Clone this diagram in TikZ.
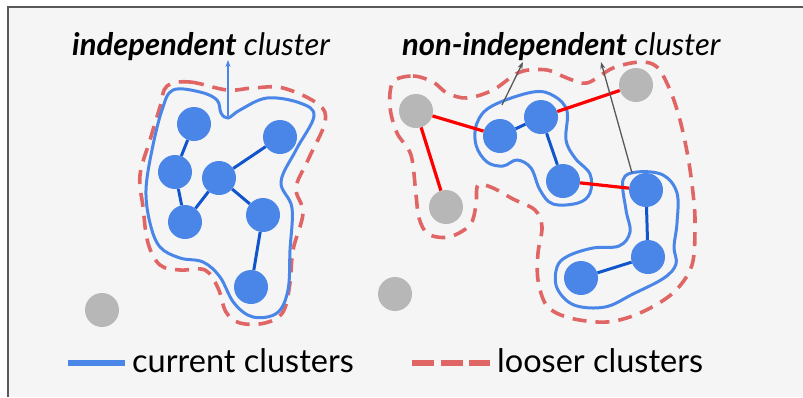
\documentclass[tikz,border=0pt]{standalone}
\usepackage{fontspec}
\setmainfont{Lato}
\usepackage{tikz}
\usetikzlibrary{arrows.meta, positioning}
\definecolor{nodeblue}{RGB}{74, 134, 232}
\definecolor{edgeblue}{RGB}{17, 85, 204}
\definecolor{looseRed}{RGB}{224, 102, 102}
\definecolor{edgered}{RGB}{255, 0, 0}
\definecolor{pointgray}{RGB}{183, 183, 183}
\definecolor{framegray}{RGB}{89, 89, 89}
\definecolor{panelbg}{RGB}{245, 245, 245}

\begin{document}
\begin{tikzpicture}[
			x=1pt, y=-1pt,
			member/.style={circle, fill=nodeblue, minimum size=34pt, inner sep=0pt},
			outlier/.style={circle, fill=pointgray, minimum size=34pt, inner sep=0pt},
			intra/.style={draw=edgeblue, line width=3pt},
			inter/.style={draw=edgered, line width=3.2pt},
			current/.style={draw=nodeblue, line width=3pt},
			looser/.style={draw=looseRed, line width=3.6pt, dash pattern=on 14pt off 9pt},
			caption/.style={anchor=base west, font=\fontsize{31}{34}\selectfont\itshape, inner sep=0pt},
			legend/.style={anchor=base west, font=\fontsize{32.5}{36}\selectfont, inner sep=0pt}
		]
		% Panel
		\useasboundingbox (0,0) rectangle (803,397);
		\fill[panelbg] (8,7) rectangle (803,397);
		\draw[framegray, line width=2.5pt] (8,397) -- (8,7) -- (803,7);

		% Left group
		\draw[looser] plot[smooth cycle, tension=0.6] coordinates {
			(167,86) (190,82) (227,90) (253,88) (283,88) (318,104) (325,122)
			(308,160) (296,188) (303,213) (293,250) (290,283) (283,312)
			(265,323) (240,323) (226,312) (218,288) (205,270) (180,270)
			(160,265) (148,243) (143,207) (140,175) (150,140) (160,107)};
		\draw[current] plot[smooth cycle, tension=0.6] coordinates {
			(173,90) (200,92) (217,100) (221,113) (228,118) (240,110) (267,98)
			(300,103) (314,116) (296,150) (281,182) (292,208) (290,250)
			(288,290) (277,313) (253,317) (234,303) (220,277) (203,262)
			(180,258) (160,247) (150,223) (146,190) (152,150) (162,110)};

		\node[member] (a) at (194,124) {};
		\node[member] (b) at (280,137) {};
		\node[member] (c) at (175,172) {};
		\node[member] (d) at (219,178) {};
		\node[member] (e) at (185,222) {};
		\node[member] (f) at (263,215) {};
		\node[member] (g) at (251,287) {};
		\node[outlier] (o1) at (102,310) {};

		% Right group
		\draw[looser] plot[smooth cycle, tension=0.55] coordinates {
			(393,82) (413,76) (433,82) (447,93) (467,98) (493,90) (520,72)
			(547,70) (567,78) (587,83) (613,68) (640,62) (657,67) (670,90)
			(680,120) (688,157) (693,193) (695,223) (692,265) (673,293)
			(640,313) (607,322) (570,318) (547,306) (538,280) (538,253)
			(542,227) (535,210) (513,199) (493,188) (478,185) (476,205)
			(470,225) (449,237) (428,234) (419,218) (416,195) (411,155)
			(397,133) (390,107)};
		\draw[current] plot[smooth cycle, tension=0.6] coordinates {
			(477,123) (492,106) (533,92) (554,96) (567,111) (566,140)
			(575,158) (590,174) (590,193) (578,203) (553,204) (540,190)
			(531,168) (517,160) (503,166) (487,162) (476,145)};
		\draw[current] plot[smooth cycle, tension=0.6] coordinates {
			(623,180) (637,172) (663,175) (677,193) (677,223) (674,247)
			(676,264) (664,278) (633,294) (605,307) (574,305) (557,288)
			(557,267) (568,256) (593,248) (619,246) (630,232) (626,210)};

		\node[outlier] (p) at (416,111) {};
		\node[outlier] (q) at (636,85) {};
		\node[outlier] (r) at (446,207) {};
		\node[outlier] (o2) at (395,294) {};
		\node[member] (h) at (500,136) {};
		\node[member] (i) at (541,117) {};
		\node[member] (j) at (563,181) {};
		\node[member] (k) at (646,190) {};
		\node[member] (l) at (648,257) {};
		\node[member] (m) at (581,278) {};

		% Links
		\draw[intra] (a) -- (c);
		\draw[intra] (c) -- (e);
		\draw[intra] (e) -- (d);
		\draw[intra] (d) -- (b);
		\draw[intra] (d) -- (f);
		\draw[intra] (f) -- (g);
		\draw[intra] (h) -- (i);
		\draw[intra] (i) -- (j);
		\draw[intra] (k) -- (l);
		\draw[intra] (l) -- (m);
		\draw[inter] (p) -- (h);
		\draw[inter] (p) -- (r);
		\draw[inter] (i) -- (q);
		\draw[inter] (j) -- (k);

		% Captions
		\node[caption] (indep) at (72,55) {\textbf{independent} cluster};
		\node[caption] (nonindep) at (402,55) {\textbf{non-independent} cluster};
		\coordinate (dip) at (228,116);
		\coordinate (tipA) at (228,60);
		\coordinate (tailB) at (502,105);
		\coordinate (tipB) at (523,62);
		\coordinate (tailC) at (632,173);
		\coordinate (tipC) at (601,62);
		\draw[nodeblue, line width=1.3pt, -{Stealth[length=7pt, width=5pt]}] (dip) -- (tipA);
		\draw[framegray, line width=1.3pt, -{Stealth[length=7pt, width=5pt]}] (tailB) -- (tipB);
		\draw[framegray, line width=1.3pt, -{Stealth[length=7pt, width=5pt]}] (tailC) -- (tipC);

		% Legend
		\coordinate (curA) at (68,363);
		\coordinate (curB) at (125,363);
		\coordinate (looA) at (412,363);
		\coordinate (looB) at (490,363);
		\draw[current, line width=6pt] (curA) -- (curB);
		\draw[looser, line width=6pt, dash pattern=on 22pt off 6.5pt] (looA) -- (looB);
		\node[legend] (curtext) at (132,372) {current clusters};
		\node[legend] (lootext) at (497,372) {looser clusters};
\end{tikzpicture}
\end{document}
